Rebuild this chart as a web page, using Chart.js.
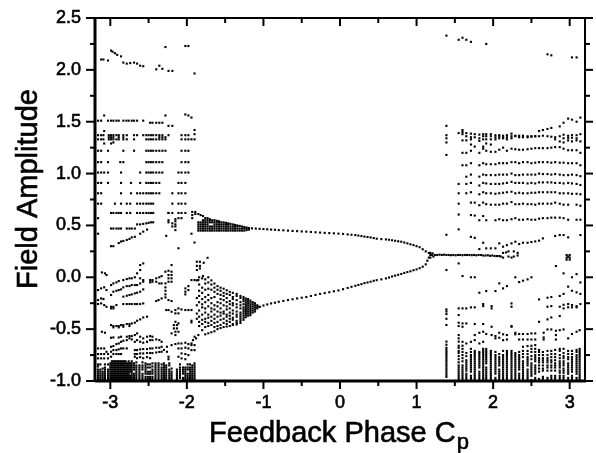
<!DOCTYPE html>
<html>
<head>
<meta charset="utf-8">
<style>html,body{margin:0;padding:0;background:#fff}canvas{display:block}</style>
<script src="https://cdn.jsdelivr.net/npm/chart.js@4/dist/chart.umd.min.js"></script>
</head>
<body>
<canvas id="c" width="596" height="453"></canvas>
<script>
const xTicks = [-3, -2, -1, 0, 1, 2, 3];
const xMinor = [-2.5, -1.5, -0.5, 0.5, 1.5, 2.5];
const yTicks = [-1, -0.5, 0, 0.5, 1, 1.5, 2, 2.5];
const yMinor = [-0.75, -0.25, 0.25, 0.75, 1.25, 1.75, 2.25];

// top of the left chaotic part
const leftTop = [[-3.12,2.1],[-3.09,2.1],[-3.03,2.09],[-2.99,2.185],[-2.97,2.175],[-2.94,2.16],[-2.91,2.145],[-2.86,2.13],[-2.83,2.07],[-2.785,2.06],[-2.74,2.065],[-2.69,2.07],[-2.65,2.06],[-2.61,2.04],[-2.57,2.035],[-2.4,2.005],[-2.36,2.04],[-2.32,2.01],[-2.24,1.99],[-2.19,1.99],[-2.28,2.22],[-2.02,2.23],[-1.98,2.23],[-1.9,1.965],[-3.08,1.56],[-2.28,1.56],[-2.02,1.57],[-1.98,1.56],[-1.94,1.54],[-1.9,1.42],[-1.9,1.38],[-3.08,1.41],[-3.08,1.29],[-2.96,1.3],[-2.99,1.29]];

// near horizontal rows on the left, y then the x values
const leftRows = [
  [1.51,-3.16,-3.12,-3.03,-2.99,-2.96,-2.92,-2.89,-2.83,-2.79,-2.76,-2.72,-2.69,-2.65,-2.57],
  [1.49,-2.48,-2.45,-2.4,-2.36,-2.32],[1.46,-2.24,-2.19],
  [1.37,-3.16,-3.12,-3.09,-3.02,-2.99,-2.96,-2.92,-2.89,-2.83,-2.785,-2.69,-2.65,-2.57,-2.53,-2.5,-2.47,-2.44,-2.4,-2.36,-2.32,-2.24,-2.07,-2.02,-1.98],
  [1.33,-3.16,-3.12,-3.09,-3.02,-2.99,-2.96,-2.92,-2.89,-2.83,-2.785,-2.69,-2.53,-2.5,-2.47,-2.44,-2.4,-2.36,-2.32,-2.28,-2.07,-2.02,-1.98,-1.94,-1.9],
  [1.35,-3.02,-2.99,-2.96,-2.89,-2.83,-2.28,-2.32,-2.36],
  [1.22,-3.16,-3.12,-3.03,-2.83,-2.69,-2.53,-2.5,-2.47,-2.44,-2.4,-2.36,-2.32,-2.28,-2.07,-2.02,-1.98],
  [1.11,-3.16,-3.12,-3.03,-2.87,-2.83,-2.53,-2.5,-2.47,-2.44,-2.4,-2.36,-2.32,-2.07,-2.02,-1.98],
  [1.01,-3.16,-3.12,-3.08,-3.03,-2.86,-2.61,-2.53,-2.5,-2.47,-2.44,-2.4,-2.36,-2.32,-2.11,-2.07,-2.02,-1.98],
  [0.91,-3.16,-3.12,-3.03,-2.86,-2.73,-2.61,-2.53,-2.5,-2.47,-2.44,-2.4,-2.36,-2.11,-2.07,-2.02],
  [0.81,-3.16,-3.12,-2.86,-2.73,-2.65,-2.61,-2.57,-2.53,-2.5,-2.47,-2.44,-2.4,-2.36,-2.19,-2.11,-2.07,-2.02],
  [0.71,-3.16,-3.12,-2.94,-2.86,-2.785,-2.74,-2.65,-2.61,-2.57,-2.53,-2.5,-2.47,-2.44,-2.19,-2.11,-2.07,-2.02],
  [0.62,-2.99,-2.96,-2.92,-2.89,-2.86,-2.785,-2.74,-2.65,-2.61,-2.57,-2.53,-2.5,-2.47,-2.44,-2.24,-2.19,-2.11,-2.07,-2.02],
  [0.47,-2.99,-2.96,-2.92,-2.89,-2.86,-2.785,-2.75,-2.72,-2.68]
];

// sloping tracks and loose dots on the left, below the 0.7 row
const leftScatter = [[-3.16,.57],[-3.16,.42],[-2.65,.51],[-2.61,.51],[-2.57,.515],[-2.53,.52],[-2.5,.525],[-2.47,.53],[-2.44,.53],
[-2.99,.30],[-2.96,.30],[-2.89,.33],[-2.86,.345],[-2.83,.35],[-2.785,.36],[-2.75,.37],[-2.72,.385],[-2.68,.39],[-2.61,.42],[-2.57,.44],[-2.52,.46],
[-2.24,.62],[-2.24,.55],[-2.24,.53],[-2.19,.52],[-2.19,.49],[-2.15,.56],[-2.15,.54],[-2.15,.51],[-2.15,.49],[-2.15,.455],[-2.11,.57],[-2.07,.57],[-2.27,.40],[-2.11,.28],[-1.94,.42],[-1.9,.335],
[-3.11,.047],[-3.07,.038],[-3.05,.022],[-2.57,.134],[-2.61,.118],[-2.65,.038],[-2.61,.07],[-2.2,.118],
[-3.16,-.123],[-3.12,-.107],[-3.08,-.097],[-3.05,-.123],[-2.99,-.075],[-2.96,-.059],[-2.92,-.049],[-2.89,-.036],[-2.83,-.027],[-2.785,-.017],[-2.75,-.01],[-2.72,-.01],[-2.68,0],[-2.61,-.01],[-2.57,-.027],
[-2.99,-.171],[-2.96,-.139],[-2.92,-.13],[-2.89,-.123],[-2.86,-.117],[-2.83,-.097],[-2.785,-.085],[-2.75,-.085],[-2.72,-.075],[-2.68,-.075],[-2.65,-.075],[-2.61,-.059],[-2.57,-.043],
[-2.83,-.187],[-2.785,-.178],[-2.75,-.171],[-2.72,-.165],[-2.68,-.155],[-2.65,-.149],[-2.61,-.139],[-2.57,-.117],
[-3.16,-.258],[-3.12,-.252],[-3.08,-.268],[-3.05,-.284],[-2.99,-.284],[-2.96,-.284],[-2.92,-.268],[-3.12,-.204],[-3.16,-.22],[-3.09,-.21],[-2.99,-.3],[-2.96,-.3],
[-2.83,-.258],[-2.785,-.258],[-2.75,-.258],[-2.72,-.258],[-2.68,-.258],[-2.65,-.258],[-2.61,-.258],[-2.57,-.252],
[-2.48,-.027],[-2.45,-.027],[-2.4,-.01],[-2.36,0],[-2.33,.012],[-2.48,-.049],[-2.45,-.043],[-2.4,-.043],[-2.36,-.059],[-2.33,-.059],[-2.28,.054],[-2.24,.063],[-2.2,.054],[-2.24,.022],[-2.2,.022],[-2.24,-.01],[-2.2,-.01],[-2.24,-.043],[-2.2,-.043],[-2.28,-.059],
[-2.28,-.097],[-2.28,-.13],[-2.28,-.165],[-2.28,-.194],[-2.33,-.204],[-2.37,-.22],[-2.4,-.229],[-2.24,-.22],[-2.2,-.229],
[-2.27,-.316],[-2.24,-.316],[-2.2,-.332],[-2.15,-.316],[-2.11,-.30],[-2.07,-.31],[-2.02,-.316],[-1.98,-.316],[-1.94,-.316],[-2.15,-.348],[-2.11,-.348],
[-2.02,-.107],[-2.02,-.139],[-2.02,-.165],[-1.98,-.085],[-1.98,-.123],[-1.94,-.027],[-1.9,-.027],[-1.85,-.027],[-1.79,.012],
[-2.99,-.461],[-2.96,-.47],[-2.92,-.47],[-2.89,-.47],[-2.86,-.461],[-2.83,-.461],[-2.785,-.451],[-2.75,-.451],[-2.72,-.445],[-2.68,-.438],[-2.65,-.419],[-2.61,-.406],[-2.57,-.387],[-2.52,-.38],[-2.96,-.483],[-2.89,-.483],[-2.83,-.477],[-2.75,-.47],
[-3.11,-.525],[-3.07,-.535],[-2.99,-.583],[-2.96,-.58],[-2.89,-.58],[-2.86,-.573],[-2.785,-.573],[-2.75,-.567],[-2.72,-.567],[-2.68,-.557],[-2.65,-.541],[-2.61,-.573],[-2.57,-.589],[-2.52,-.573],[-2.48,-.567],[-2.45,-.573],
[-2.99,-.67],[-2.96,-.663],[-2.92,-.644],[-2.89,-.638],[-2.86,-.622],[-2.83,-.612],[-2.785,-.606],[-2.75,-.589],[-2.72,-.599],[-2.68,-.622],[-2.65,-.606],[-2.61,-.622],[-2.57,-.631],[-2.52,-.622],[-2.48,-.606],[-2.45,-.606],[-2.4,-.599],[-2.36,-.606],[-2.33,-.622],
[-3.16,-.686],[-3.12,-.686],[-3.08,-.686],[-3.05,-.718],[-2.99,-.718],[-2.96,-.702],[-2.92,-.702],[-2.89,-.695],[-2.86,-.686],[-2.83,-.686],[-2.785,-.686],[-2.68,-.702],[-2.65,-.702],[-2.61,-.695],[-2.57,-.692],[-2.52,-.692],[-2.48,-.686],[-2.45,-.686],[-2.4,-.679],[-2.36,-.679],[-2.33,-.67],
[-3.16,-.74],[-3.12,-.74],[-3.08,-.74],[-3.03,-.74],[-2.96,-.74],[-2.92,-.74],[-2.89,-.74],[-2.86,-.74],[-2.68,-.74],[-2.65,-.74],[-2.61,-.734],[-2.57,-.734],[-2.52,-.73],[-2.48,-.73],[-2.45,-.73],[-2.4,-.725],[-2.36,-.72],[-2.33,-.718],
[-3.16,-.782],[-3.12,-.782],[-3.08,-.782],[-3.03,-.782],[-2.99,-.766],[-2.68,-.766],[-2.65,-.78],[-2.61,-.77],[-2.57,-.78],[-2.52,-.77],[-2.48,-.78],
[-2.15,-.429],[-2.17,-.461],[-2.13,-.461],[-2.11,-.445],[-2.17,-.493],[-2.13,-.493],[-2.15,-.525],[-2.11,-.525],[-2.2,-.541],[-2.15,-.557],[-1.9,-.573],[-1.85,-.557],[-1.88,-.589],[-1.92,-.606],[-1.94,-.638],
[-2.2,-.654],[-2.15,-.644],[-2.11,-.638],[-2.07,-.638],[-2.02,-.631],[-1.98,-.644],[-1.94,-.654],[-1.9,-.654],[-2.11,-.686],[-2.07,-.686],[-2.02,-.679],[-1.98,-.686],[-1.94,-.702],[-1.9,-.702],[-2.07,-.734],[-2.02,-.74],[-1.98,-.75],[-2.11,-.766],[-2.07,-.782],[-2.02,-.79],
[-2.26,-.67],[-2.26,-.718],[-2.24,-.766],[-2.24,-.79],[-2.3,-.7],[-1.94,-.419],[-1.94,-.435]];

// stacks of dots along the bottom on the left, x then the y values
const leftStacks = [
  [-3.16,-.99,-.97,-.95,-.93,-.91,-.89,-.86,-.84],[-3.13,-.99,-.97,-.95,-.93,-.91,-.89,-.84],[-3.1,-.99,-.97,-.95,-.93,-.91,-.88],[-3.07,-.99,-.97,-.95,-.93,-.91,-.89,-.87,-.84],[-3.03,-.99,-.97,-.95,-.93,-.91,-.89,-.84],
  [-3.0,-.99,-.97,-.95,-.93,-.91,-.89,-.87,-.85,-.83],[-2.98,-.99,-.97,-.95,-.93,-.91,-.89,-.87,-.85,-.83,-.81],[-2.96,-.99,-.97,-.95,-.93,-.91,-.89,-.87,-.85,-.83,-.81],[-2.94,-.99,-.97,-.95,-.93,-.91,-.89,-.87,-.85,-.83,-.81],[-2.92,-.99,-.97,-.95,-.93,-.91,-.89,-.87,-.85,-.83,-.81],[-2.9,-.99,-.97,-.95,-.93,-.91,-.89,-.87,-.85,-.83,-.81],[-2.88,-.99,-.97,-.95,-.93,-.91,-.89,-.87,-.85,-.83,-.81],[-2.86,-.99,-.97,-.95,-.93,-.91,-.89,-.87,-.85,-.83,-.81],[-2.84,-.99,-.97,-.95,-.93,-.91,-.89,-.87,-.85,-.83,-.81],[-2.82,-.99,-.97,-.95,-.93,-.91,-.89,-.87,-.85,-.83,-.81],[-2.8,-.99,-.97,-.95,-.93,-.91,-.89,-.87,-.85,-.83,-.81],[-2.78,-.99,-.97,-.95,-.93,-.91,-.89,-.87,-.85,-.83],[-2.76,-.99,-.97,-.95,-.93,-.91,-.89,-.87,-.85,-.83,-.81],[-2.74,-.99,-.97,-.95,-.91,-.89,-.87,-.85,-.83],[-2.72,-.99,-.97,-.95,-.93,-.91,-.89,-.87,-.85,-.83,-.81],
  [-2.69,-.99,-.97,-.95,-.93,-.89,-.87,-.85,-.83],[-2.66,-.99,-.97,-.95,-.93,-.91,-.89,-.87,-.85,-.82],[-2.62,-.99,-.97,-.95,-.93,-.91,-.89,-.87,-.85],[-2.58,-.99,-.97,-.95,-.93,-.89,-.87,-.85,-.82],
  [-2.54,-.98,-.96,-.93,-.91,-.89,-.87,-.85,-.83],[-2.51,-.98,-.96,-.93,-.91,-.87,-.84],[-2.48,-.98,-.96,-.93,-.91,-.87,-.84],[-2.45,-.98,-.96,-.93,-.91,-.89,-.86,-.83],
  [-2.41,-.99,-.97,-.95,-.93,-.91,-.89,-.87,-.85,-.83],[-2.37,-.99,-.97,-.95,-.93,-.91,-.89,-.87,-.85,-.83],[-2.33,-.99,-.97,-.95,-.93,-.91,-.89,-.87,-.84],[-2.3,-.99,-.97,-.95,-.93,-.91,-.89,-.87,-.85,-.83],[-2.27,-.99,-.97,-.95,-.93,-.91,-.89,-.87,-.85],[-2.23,-.99,-.97,-.95,-.93,-.91,-.89,-.85,-.83],[-2.2,-.99,-.97,-.95,-.93,-.91,-.88],
  [-2.13,-.99,-.97,-.95,-.93,-.91,-.89],[-2.09,-.97,-.95,-.93,-.91,-.89,-.87,-.84],[-2.05,-.99,-.97,-.93,-.91,-.89,-.87],[-2.02,-.99,-.97,-.95,-.93,-.91,-.89,-.87],[-1.99,-.99,-.97,-.95,-.93,-.89,-.87,-.84],[-1.96,-.99,-.97,-.95,-.93,-.91,-.89,-.87,-.84],[-1.93,-.99,-.97,-.95,-.93,-.91,-.89,-.87,-.85],[-1.9,-.99,-.97,-.95,-.93,-.91,-.89,-.87,-.85,-.83]
];

// period doubled branches
const upperBranchX = [-1.15,-1.1,-1.05,-1,-.95,-.9,-.85,-.8,-.74,-.68,-.62,-.56,-.5,-.44,-.38,-.32,-.26,-.2,-.14,-.08,-.02,.04,.1,.15,.2,.24,.28,.32,.36,.4,.44,.48,.54,.6,.64,.68,.72,.76,.8,.84,.88,.92,.96,1,1.04,1.08,1.12];
const upperBranchY = [.472,.47,.467,.465,.463,.46,.458,.455,.453,.45,.447,.445,.442,.44,.437,.434,.431,.428,.426,.424,.421,.418,.413,.41,.407,.402,.397,.392,.388,.384,.378,.372,.368,.365,.362,.357,.352,.347,.343,.335,.327,.318,.31,.3,.29,.27,.25];
const lowerBranchX = [-1.05,-1,-.95,-.9,-.85,-.8,-.74,-.68,-.62,-.56,-.5,-.44,-.38,-.32,-.26,-.2,-.14,-.08,-.02,.04,.1,.15,.2,.24,.28,.32,.36,.4,.44,.48,.54,.6,.64,.68,.72,.76,.8,.84,.88,.92,.96,1,1.04,1.08,1.12];
const lowerBranchY = [-.285,-.272,-.262,-.252,-.245,-.236,-.228,-.22,-.212,-.204,-.197,-.19,-.18,-.17,-.16,-.152,-.144,-.135,-.127,-.115,-.103,-.092,-.082,-.074,-.066,-.056,-.05,-.043,-.034,-.028,-.02,-.011,-.002,.008,.016,.024,.032,.042,.05,.058,.068,.076,.088,.102,.125];
const tipX = [1.14,1.16,1.16,1.18,1.18,1.18,1.2,1.21,1.22,1.24,1.27,1.3,1.33,1.36,1.39,1.42,1.45,1.48,1.51,1.54,1.57,1.6,1.63,1.66,1.69,1.72,1.75,1.78,1.81,1.84,1.87,1.9,1.93,1.96,1.99,2.02,2.05,2.08,2.1,2.13,2.13,2.17,2.2,2.2,2.24,2.27,2.27,2.32,2.32];
const tipY = [.16,.235,.19,.235,.215,.19,.215,.23,.2,.215,.215,.218,.215,.218,.215,.215,.213,.215,.212,.215,.215,.213,.215,.215,.215,.213,.215,.212,.215,.215,.21,.21,.212,.207,.21,.205,.205,.205,.2,.235,.19,.24,.25,.2,.19,.25,.2,.21,.235];

// upper fan next to the branch, x then y values
const upperFan = [
  [-1.93,.63,.6,.57],[-1.89,.63,.61],[-1.85,.45,.47,.49,.51,.53,.61],[-1.82,.45,.47,.49,.51,.53,.6],[-1.79,.45,.47,.49,.51,.53,.55,.59],[-1.76,.45,.47,.49,.51,.53,.55,.57],[-1.73,.45,.47,.49,.51,.53,.55,.57],[-1.7,.45,.47,.49,.53,.55,.56],[-1.67,.45,.47,.49,.53,.55],[-1.64,.45,.47,.49,.51,.53,.55],[-1.61,.45,.47,.49,.51,.53,.545],[-1.58,.45,.47,.49,.51,.53,.54],[-1.55,.45,.47,.49,.51,.53],[-1.52,.45,.47,.49,.51,.53],[-1.49,.45,.47,.49,.51,.525],[-1.46,.45,.47,.49,.51,.52],[-1.43,.45,.47,.49,.515],[-1.4,.45,.47,.49,.51],[-1.37,.45,.47,.49,.505],[-1.34,.45,.47,.49,.5],[-1.31,.45,.47,.495],[-1.28,.45,.47,.49],[-1.25,.45,.47,.485],[-1.22,.455,.47,.48],[-1.19,.46,.475]
];
// lower fan, dots with holes on the left and solid near the tip
const lowerFan = [
  [-1.05,-.285],[-1.08,-.27,-.285,-.3],[-1.11,-.25,-.27,-.29,-.31,-.33],[-1.14,-.24,-.26,-.28,-.3,-.32,-.34],[-1.17,-.225,-.245,-.265,-.285,-.305,-.325,-.345,-.365],[-1.2,-.21,-.23,-.25,-.27,-.29,-.31,-.33,-.35,-.37],[-1.23,-.205,-.225,-.245,-.265,-.285,-.305,-.325,-.345,-.365,-.385],[-1.26,-.19,-.21,-.23,-.26,-.29,-.31,-.33,-.35,-.37,-.39,-.41],
  [-1.3,-.18,-.2,-.24,-.27,-.3,-.34,-.36,-.38,-.4,-.42,-.44],[-1.35,-.16,-.18,-.22,-.26,-.29,-.33,-.36,-.38,-.42,-.44,-.455],[-1.4,-.15,-.19,-.21,-.25,-.27,-.32,-.35,-.39,-.41,-.45,-.46],[-1.44,-.14,-.17,-.23,-.26,-.3,-.34,-.37,-.4,-.43,-.47],[-1.48,-.125,-.16,-.2,-.24,-.28,-.31,-.36,-.38,-.42,-.45,-.475],[-1.52,-.11,-.15,-.18,-.22,-.27,-.33,-.35,-.4,-.44,-.48],[-1.56,-.1,-.13,-.17,-.21,-.25,-.3,-.34,-.37,-.41,-.46,-.49],[-1.6,-.085,-.12,-.16,-.24,-.28,-.33,-.38,-.43,-.47,-.5],[-1.64,-.06,-.1,-.14,-.19,-.27,-.31,-.36,-.4,-.44,-.48,-.52],[-1.68,-.03,-.07,-.12,-.2,-.25,-.3,-.33,-.38,-.42,-.46,-.53],[-1.72,0,-.05,-.11,-.17,-.22,-.28,-.36,-.39,-.44,-.47,-.54],[-1.76,-.02,-.06,-.12,-.19,-.24,-.3,-.34,-.4,-.43,-.48,-.55],[-1.8,-.01,-.1,-.15,-.21,-.26,-.29,-.36,-.41,-.45,-.51],[-1.84,.0,-.07,-.13,-.18,-.24,-.32,-.38,-.43,-.47],[-1.87,-.03,-.2,-.27,-.35,-.4],
  [-1.87,.15],[-1.83,.15],[-1.78,.14],[-1.87,.07],[-1.83,.085],[-1.73,.188],[-1.87,.11],[-1.83,.11]
];

// right side: columns shared by the long rows, null where a row has a gap
const rightXs = [1.6,1.65,1.71,1.76,1.82,1.87,1.91,1.97,2.03,2.08,2.13,2.18,2.24,2.29,2.34,2.39,2.45,2.5,2.55,2.6,2.65,2.71,2.76,2.81,2.87,2.92,2.98,3.03,3.09,3.14];
const rightRow1 = [1.42,1.39,1.385,1.38,1.375,1.38,1.38,1.38,1.37,1.37,1.365,1.37,1.385,1.365,1.365,1.365,1.36,1.36,1.36,1.41,1.42,1.43,1.44,null,1.455,1.49,1.53,1.52,1.5,1.54];
const rightRow2 = [1.38,1.36,1.35,1.35,1.34,1.36,1.36,1.36,1.35,1.36,1.35,1.35,1.36,1.36,1.35,1.35,1.35,1.355,1.36,1.36,1.365,1.36,1.355,1.35,1.36,1.375,1.365,1.37,1.37,1.38];
const rightRow3 = [1.32,1.32,1.33,null,1.315,1.33,1.33,1.33,1.33,1.34,1.34,1.33,1.34,null,null,null,null,null,null,null,null,null,null,1.33,1.31,1.34,1.345,1.345,1.34,1.31];
const rightRow4 = [null,null,1.28,1.26,null,1.26,1.29,1.28,null,null,null,null,null,null,null,null,null,null,null,null,null,null,null,null,null,1.3,1.32,1.31,1.32,null];
const rightRow5 = [1.2,1.2,1.22,null,1.2,1.24,1.22,1.21,1.21,1.23,1.25,1.22,1.24,1.235,1.23,1.23,1.235,1.24,1.245,1.245,1.245,1.245,1.25,1.255,1.255,1.24,1.225,1.225,1.225,1.2];
const rightRow6 = [1.08,1.08,1.1,null,1.08,1.1,1.09,1.09,1.09,1.1,1.1,1.1,1.11,1.11,1.1,1.11,1.11,1.1,1.105,1.11,1.11,1.11,1.105,1.11,1.105,1.105,1.1,1.1,1.1,1.08];
const rightRow7 = [null,.97,.99,null,.97,.99,.985,.985,.985,.99,.99,.99,1,.985,.985,.99,.99,.99,.99,1,.995,.995,.99,.995,.99,.985,.985,.99,.985,.975];
const rightRow8 = [null,.9,.91,null,.885,.91,.905,.9,.9,.9,.905,.91,.92,.91,.91,.91,.905,.91,.905,.915,.915,.915,.915,.91,.91,.905,.91,.905,.9,.89];
const rightRow9 = [null,.81,.82,null,.8,.82,.81,.81,.805,.81,.815,.82,.825,.81,.815,.81,.81,.815,.815,.82,.82,.82,.82,.82,.81,.81,.81,.805,.805,.8];
const rightRow10 = [null,null,.72,.72,.695,.72,.705,.7,.7,.7,.71,.71,.725,.705,.705,.71,.705,.705,.7,.71,.71,.71,.71,.72,.71,.7,.7,null,.7,.69];
const rightRow11 = [null,null,.6,.595,.55,.59,.55,null,.55,.56,.55,.55,.56,.57,.555,.555,.56,.555,.555,.565,.57,.57,.575,.575,.575,.57,.555,null,.555,.555];
const rightRow12 = [null,null,.39,.38,.272,.333,.279,.279,.279,.327,.295,.31,.327,.343,.32,.333,.333,.34,.346,.353,.375,null,null,.398,.407,.407,.385,null,null,.407];

const rightScatter = [[1.39,2.33],[1.55,2.29],[1.6,2.31],[1.65,2.29],[1.71,2.27],[1.91,2.25],[2.71,2.15],[2.76,2.14],[3.03,2.12],[3.09,2.12],
[1.39,1.46],[1.39,1.37],[1.39,1.34],[1.39,1.3],[1.39,1.18],[1.55,1.39],[1.6,1.4],[1.39,.41],[1.55,.462],[1.55,.71],[1.55,.605],[1.55,.9],[1.55,.81],[1.55,.134],[1.39,.07],[1.6,.012],[1.71,0],[1.76,0],[2.82,.108],[2.92,.038],[3.03,0],[3.09,.03],[3.14,-.05],
[1.82,-.149],[1.91,-.133],[2.03,-.133],[2.08,-.059],[2.13,-.107],[2.18,-.085],[2.29,0],[2.34,-.046],[2.39,-.033],[2.45,-.02],[2.5,0],
[2.6,-.213],[2.71,-.197],[2.76,-.19],[2.87,-.18],[2.92,-.16],[2.98,-.09],[3.03,-.13],[3.09,-.145],[3.14,-.16],
[2.96,.215],[2.96,.19],[2.96,.17],[3,.215],[3,.19],[3,.17],[2.98,.2],
[1.39,-.31],[1.39,-.33],[1.39,-.355],[1.39,-.4],[1.39,-.46],[1.55,-.3],[1.6,-.3],[1.65,-.3],[1.71,-.29],[1.76,-.29],[1.87,-.278],[1.87,-.258],[1.98,-.3],[1.98,-.278],[2.24,-.252],[2.24,-.284],[2.71,-.284],[2.76,-.278],[2.87,-.284],[2.92,-.265],[2.98,-.258],[3.03,-.268],[3.09,-.278],[3.14,-.258],[2.92,-.3],[2.98,-.29],[3.03,-.29],[3.09,-.29],[1.55,-.364],
[2.6,-.429],[2.71,-.406],[2.76,-.387],[2.87,-.374],[1.55,-.438],[1.6,-.445],[1.65,-.445],[1.76,-.451],[1.87,-.451],[1.98,-.477],[2.24,-.477],[2.24,-.47],[1.55,-.47],[1.6,-.477],
[1.76,-.557],[1.82,-.535],[1.87,-.525],[1.91,-.547],[1.98,-.557],[2.03,-.567],[2.08,-.535],[2.13,-.55],[2.18,-.557],[2.29,-.535],[2.34,-.547],[2.39,-.547],[2.45,-.547],[2.5,-.541],[2.55,-.541],[2.66,-.535],[2.71,-.503],[2.76,-.503],[2.82,-.515],[2.87,-.51],[2.92,-.503],[2.98,-.589],[3.03,-.547],[3.09,-.525],[3.13,-.51],
[2.03,-.589],[2.08,-.583],[2.13,-.606],[2.18,-.6],[2.29,-.55],[2.34,-.6],[2.39,-.6],[2.45,-.6],[2.5,-.6],[2.55,-.6],[2.66,-.58],[2.82,-.557],[2.82,-.6],
[1.55,-.557],[1.55,-.589],[1.55,-.62],[1.6,-.622],[1.65,-.638],[1.71,-.622],[1.76,-.606],[1.82,-.638],[1.87,-.622],[2.39,-.67],[2.45,-.663],[2.5,-.66],[2.55,-.654],[2.66,-.6]];

// stacks along the bottom on the right, x then y values
const rightStacks = [
  [1.39,-.96,-.94,-.92,-.9,-.88,-.86,-.84,-.82,-.8,-.78,-.76,-.74,-.72,-.7,-.68,-.65,-.62],
  [1.55,-.99,-.97,-.95,-.93,-.91,-.89,-.87,-.85,-.82,-.79,-.76,-.73,-.71,-.68,-.66],
  [1.6,-.99,-.97,-.95,-.93,-.91,-.89,-.87,-.85,-.81,-.78,-.75,-.72,-.69,-.66],
  [1.65,-.99,-.97,-.95,-.93,-.9,-.88,-.86,-.84,-.82,-.8,-.76,-.73],
  [1.71,-.99,-.97,-.95,-.91,-.89,-.87,-.85,-.83,-.81,-.79,-.77,-.75,-.72,-.69],
  [1.76,-.99,-.97,-.95,-.93,-.91,-.89,-.87,-.85,-.83,-.81,-.79,-.77,-.75,-.73,-.71],
  [1.82,-.99,-.97,-.95,-.93,-.91,-.87,-.85,-.83,-.81,-.79,-.77,-.75,-.73,-.72],
  [1.87,-.99,-.97,-.95,-.93,-.91,-.89,-.87,-.85,-.83,-.81,-.79,-.77,-.75,-.73,-.71,-.69],
  [1.91,-.99,-.97,-.95,-.93,-.91,-.89,-.87,-.83,-.81,-.79,-.77,-.75,-.73,-.71,-.69],
  [1.97,-.99,-.97,-.95,-.93,-.91,-.89,-.87,-.85,-.83,-.81,-.79,-.77,-.75,-.73,-.71],
  [2.03,-.99,-.97,-.93,-.91,-.89,-.87,-.85,-.83,-.81,-.79,-.77,-.75,-.72],
  [2.08,-.99,-.97,-.95,-.93,-.91,-.89,-.85,-.83,-.81,-.79,-.77,-.74],
  [2.13,-.99,-.97,-.95,-.93,-.91,-.89,-.87,-.85,-.83,-.81,-.79,-.77,-.75,-.71],
  [2.18,-.99,-.97,-.95,-.93,-.91,-.89,-.87,-.85,-.83,-.81,-.79,-.77,-.75,-.73,-.71],
  [2.24,-.99,-.97,-.95,-.93,-.91,-.89,-.87,-.85,-.83,-.81,-.79,-.77,-.75,-.73,-.71],
  [2.29,-.99,-.97,-.95,-.93,-.91,-.89,-.87,-.85,-.83,-.81,-.79,-.77,-.75,-.73],
  [2.34,-.99,-.97,-.95,-.93,-.89,-.87,-.85,-.83,-.81,-.79,-.77,-.75,-.72],
  [2.39,-.99,-.97,-.95,-.93,-.91,-.89,-.87,-.85,-.83,-.81,-.77,-.74,-.71],
  [2.45,-.99,-.97,-.95,-.93,-.91,-.89,-.85,-.83,-.81,-.79,-.77,-.74,-.71],
  [2.5,-.99,-.95,-.93,-.91,-.89,-.87,-.85,-.83,-.79,-.76,-.72,-.69],
  [2.55,-.99,-.97,-.93,-.91,-.89,-.87,-.85,-.81,-.79,-.77,-.75,-.72,-.69],
  [2.6,-.98,-.91,-.88,-.85,-.82,-.8,-.78,-.75,-.72,-.7],
  [2.65,-.98,-.96,-.9,-.88,-.85,-.82,-.8,-.78,-.75,-.72],
  [2.71,-.99,-.97,-.9,-.87,-.85,-.82,-.8,-.78,-.75,-.71],
  [2.76,-.99,-.97,-.95,-.9,-.87,-.85,-.82,-.8,-.77,-.74,-.71],
  [2.81,-.99,-.97,-.95,-.9,-.87,-.85,-.83,-.8,-.77,-.74,-.7],
  [2.87,-.99,-.97,-.95,-.92,-.9,-.87,-.85,-.83,-.81,-.78,-.75,-.71,-.69],
  [2.92,-.99,-.97,-.95,-.92,-.9,-.88,-.85,-.83,-.81,-.78,-.76,-.73,-.69],
  [2.98,-.99,-.97,-.93,-.91,-.89,-.87,-.85,-.83,-.79,-.77,-.74,-.71],
  [3.03,-.99,-.97,-.95,-.91,-.89,-.87,-.85,-.83,-.81,-.79,-.77,-.74,-.71],
  [3.09,-.99,-.97,-.93,-.91,-.89,-.87,-.85,-.83,-.81,-.79,-.77,-.75,-.72,-.7],
  [3.13,-.99,-.97,-.95,-.93,-.91,-.89,-.87,-.85,-.83,-.81,-.79,-.77,-.75,-.73,-.71,-.69]
];

const points = [];
leftTop.concat(leftScatter, rightScatter).forEach(p => points.push({x: p[0], y: p[1]}));
leftRows.forEach(r => r.slice(1).forEach(x => points.push({x, y: r[0]})));
[leftStacks, upperFan, lowerFan, rightStacks].forEach(group => {
  group.forEach(c => c.slice(1).forEach(y => points.push({x: c[0], y})));
});
upperBranchX.forEach((x, i) => points.push({x, y: upperBranchY[i]}));
lowerBranchX.forEach((x, i) => points.push({x, y: lowerBranchY[i]}));
tipX.forEach((x, i) => points.push({x, y: tipY[i]}));
[rightRow1, rightRow2, rightRow3, rightRow4, rightRow5, rightRow6, rightRow7, rightRow8, rightRow9, rightRow10, rightRow11, rightRow12].forEach(row => {
  row.forEach((y, i) => { if (y !== null) points.push({x: rightXs[i], y}); });
});

const fontName = '"Liberation Sans", Arial, sans-serif';

// frame, ticks on all four sides and the axis titles
const framePlugin = {
  id: 'frame',
  afterDraw(chart) {
    const {ctx, chartArea: a, scales} = chart;
    const mark = (x1, y1, x2, y2, w) => {
      ctx.lineWidth = w;
      ctx.beginPath();
      ctx.moveTo(x1, y1);
      ctx.lineTo(x2, y2);
      ctx.stroke();
    };
    const label = (text, x, y) => {
      ctx.lineWidth = 0.6;
      ctx.strokeText(text, x, y);
      ctx.fillText(text, x, y);
    };
    ctx.save();
    ctx.strokeStyle = '#000';
    mark(a.left, a.top - 1, a.left, a.bottom + 1, 3);
    mark(a.left, a.bottom, a.right + 1, a.bottom, 3);
    mark(a.left - 9, a.top, a.right + 1, a.top, 2);
    mark(a.right, a.top, a.right, a.bottom, 2);
    xTicks.forEach(v => {
      const p = scales.x.getPixelForValue(v);
      mark(p, a.bottom, p, a.bottom + 8, 2);
      mark(p, a.top, p, a.top + 8, 2);
    });
    xMinor.forEach(v => {
      const p = scales.x.getPixelForValue(v);
      mark(p, a.bottom, p, a.bottom + 5, 2);
      mark(p, a.top, p, a.top + 5, 2);
    });
    yTicks.forEach(v => {
      const p = scales.y.getPixelForValue(v);
      mark(a.left - 9, p, a.left, p, 2);
      mark(a.right, p, a.right + 8, p, 2);
    });
    yMinor.forEach(v => {
      const p = scales.y.getPixelForValue(v);
      mark(a.left - 5, p, a.left, p, 2);
      mark(a.right, p, a.right + 5, p, 2);
    });

    ctx.fillStyle = '#000';
    ctx.textBaseline = 'alphabetic';
    ctx.font = '29px ' + fontName;
    ctx.textAlign = 'left';
    label('Feedback Phase C', 209, 442);
    const w = ctx.measureText('Feedback Phase C').width;
    ctx.font = '22px ' + fontName;
    label('p', 209 + w + 1, 449);
    ctx.font = '29px ' + fontName;
    ctx.textAlign = 'center';
    ctx.translate(37, 189);
    ctx.rotate(-Math.PI / 2);
    label('Field Amplitude', 0, 0);
    ctx.restore();
  }
};

const tickFont = {family: fontName, size: 18};

new Chart(document.getElementById('c'), {
  type: 'scatter',
  data: {
    datasets: [{
      data: points,
      pointStyle: 'rect',
      pointRadius: 1.5,
      pointBackgroundColor: '#000',
      pointBorderWidth: 0,
      showLine: false
    }]
  },
  options: {
    responsive: false,
    animation: false,
    layout: {padding: {top: 18, right: 11, left: 0, bottom: 0}},
    plugins: {legend: {display: false}, tooltip: {enabled: false}},
    scales: {
      x: {
        type: 'linear',
        min: -3.2,
        max: 3.2,
        afterBuildTicks: s => { s.ticks = xTicks.map(value => ({value})); },
        afterFit: s => { s.height = 72; },
        grid: {display: false},
        border: {display: false},
        ticks: {color: '#000', font: tickFont, textStrokeColor: '#000', textStrokeWidth: 0.6, padding: 3, maxRotation: 0, autoSkip: false, callback: v => String(v)}
      },
      y: {
        type: 'linear',
        min: -1,
        max: 2.5,
        afterBuildTicks: s => { s.ticks = yTicks.map(value => ({value})); },
        afterFit: s => { s.width = 95; },
        grid: {display: false},
        border: {display: false},
        ticks: {color: '#000', font: tickFont, textStrokeColor: '#000', textStrokeWidth: 0.6, padding: 6, autoSkip: false, callback: v => v.toFixed(1)}
      }
    }
  },
  plugins: [framePlugin]
});
</script>
</body>
</html>
